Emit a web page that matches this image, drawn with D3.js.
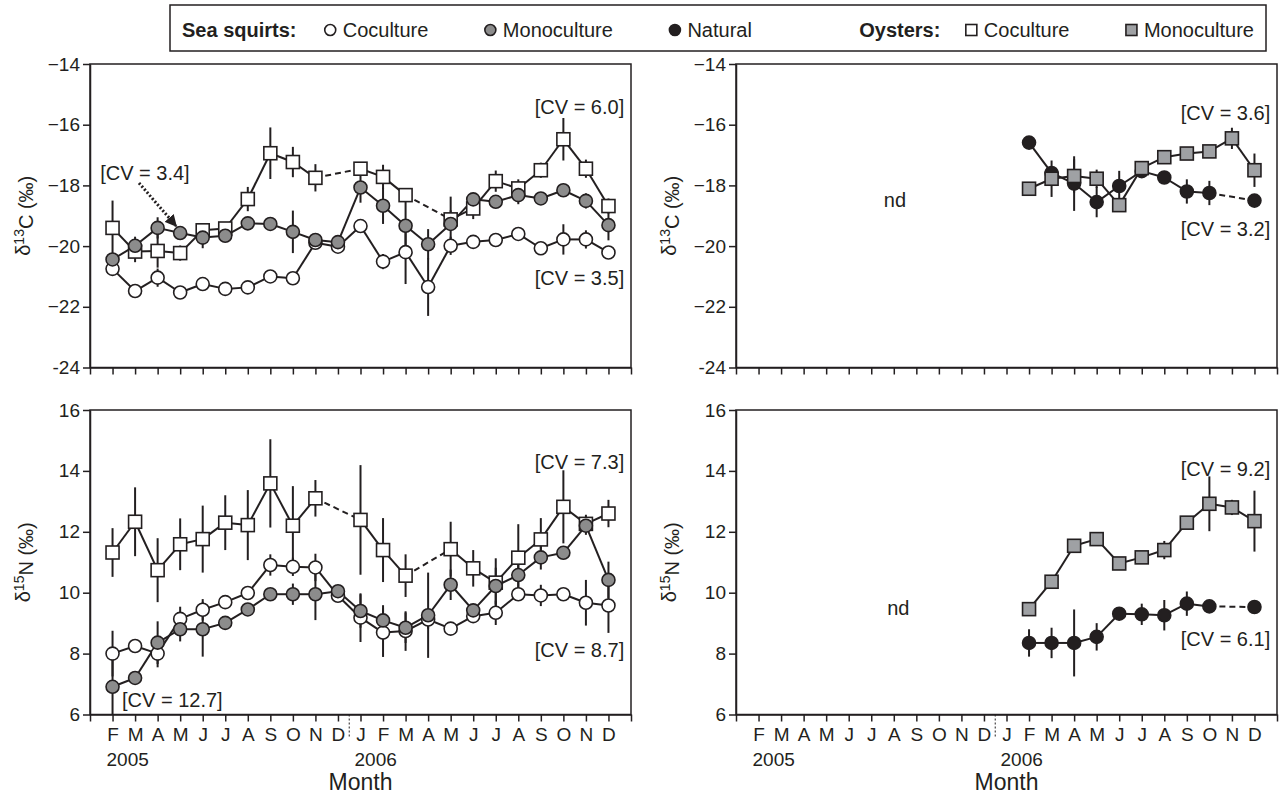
<!DOCTYPE html>
<html>
<head>
<meta charset="utf-8">
<script src="https://cdnjs.cloudflare.com/ajax/libs/d3/7.8.5/d3.min.js"></script>
<style>
body { margin: 0; background: #fff; }
svg text { font-family: "Liberation Sans", Arial, Helvetica, sans-serif; fill: #231f20; }
</style>
</head>
<body>
<svg id="chart" width="1279" height="797"></svg>
<script>
// month index 1 = Feb 2005 ... 23 = Dec 2006 (0 and 24 are the frame edges)
var monthLabels = ["F","M","A","M","J","J","A","S","O","N","D","J","F","M","A","M","J","J","A","S","O","N","D"];
var yearLabels = [{t: "2005", m: 1}, {t: "2006", m: 12}];
var c13Ticks = [-24, -22, -20, -18, -16, -14];
var n15Ticks = [6, 8, 10, 12, 14, 16];

// d13C, sea squirts + oysters in coculture / monoculture
var oyCocC13   = [-19.40,-20.18,-20.16,-20.23,-19.48,-19.42,-18.45,-16.94,-17.23,-17.75,null,-17.45,-17.72,-18.32,null,-19.12,-18.76,-17.86,-18.10,-17.50,-16.48,-17.45,-18.68];
var oyCocC13e  = [0.9,0.35,0.55,0.25,0.2,0.15,0.4,0.85,0.5,0.45,null,0.15,0.4,0.2,null,0.3,0.35,0.35,0.3,0.25,0.7,0.3,0.25];
var ssCocC13   = [-20.75,-21.48,-21.04,-21.53,-21.25,-21.41,-21.36,-21.00,-21.06,-19.89,-20.02,-19.34,-20.51,-20.20,-21.35,-19.99,-19.86,-19.80,-19.60,-20.07,-19.78,-19.78,-20.21];
var ssCocC13e  = [0.1,0.1,0.3,0.1,0.2,0.1,0.1,0.1,0.1,0.2,0.1,0.1,0.25,1.05,0.95,0.3,0.1,0.1,0.1,0.1,0.5,0.3,0.1];
var ssMonoC13  = [-20.44,-19.99,-19.40,-19.57,-19.72,-19.66,-19.25,-19.27,-19.53,-19.80,-19.87,-18.07,-18.67,-19.33,-19.94,-19.27,-18.46,-18.54,-18.32,-18.43,-18.16,-18.51,-19.31];
var ssMonoC13e = [0.15,0.3,0.35,0.1,0.35,0.1,0.2,0.1,0.7,0.15,0.1,0.5,0.6,0.9,0.5,0.9,0.1,0.1,0.3,0.1,0.2,0.25,0.5];
var ssNatC13   = [null,null,null,null,null,null,null,null,null,null,null,null,-16.59,-17.59,-17.94,-18.55,-18.02,-17.53,-17.74,-18.20,-18.25,null,-18.50];
var ssNatC13e  = [null,null,null,null,null,null,null,null,null,null,null,null,0,0.2,0.9,0.5,0.5,0.1,0.2,0.4,0.4,null,0.1];
var oyMonoC13  = [null,null,null,null,null,null,null,null,null,null,null,null,-18.11,-17.78,-17.69,-17.78,-18.65,-17.43,-17.07,-16.95,-16.88,-16.45,-17.50];
var oyMonoC13e = [null,null,null,null,null,null,null,null,null,null,null,null,0.1,0.6,0.55,0.3,0.15,0.1,0.15,0.1,0.1,0.35,0.55];

// d15N
var oyCocN15   = [11.32,12.33,10.74,11.59,11.76,12.30,12.22,13.59,12.20,13.10,null,12.39,11.40,10.56,null,11.43,10.80,10.33,11.15,11.75,12.82,12.26,12.60];
var oyCocN15e  = [0.8,1.13,1.05,0.85,1.1,0.9,1.15,1.45,1.3,0.6,null,1.8,1.05,0.7,null,0.9,0.6,0.8,1.1,0.7,1.2,0.3,0.45];
var ssCocN15   = [8.00,8.25,8.00,9.14,9.44,9.69,9.99,10.91,10.85,10.83,9.90,9.18,8.69,8.74,9.12,8.82,9.23,9.34,9.95,9.91,9.95,9.67,9.58];
var ssCocN15e  = [0.75,0.1,0.45,0.4,0.35,0.2,0.1,0.35,0.3,0.45,0.2,0.8,0.8,0.65,0.3,0.1,0.1,0.4,0.1,0.35,0.1,0.75,0.9];
var ssMonoN15  = [6.91,7.20,8.36,8.80,8.80,9.01,9.45,9.95,9.95,9.95,10.05,9.40,9.09,8.85,9.26,10.26,9.42,10.22,10.58,11.16,11.31,12.20,10.42];
var ssMonoN15e = [0.9,0.1,0.7,0.4,0.9,0.1,0.1,0.1,0.35,0.85,0.1,0.55,0.5,0.5,1.4,0.5,0.1,0.6,0.5,0.4,0.1,0.3,0.6];
var ssNatN15   = [null,null,null,null,null,null,null,null,null,null,null,null,8.35,8.35,8.35,8.55,9.31,9.29,9.26,9.64,9.55,null,9.53];
var ssNatN15e  = [null,null,null,null,null,null,null,null,null,null,null,null,0.45,0.5,1.1,0.45,0.1,0.35,0.5,0.4,0.1,null,0.1];
var oyMonoN15  = [null,null,null,null,null,null,null,null,null,null,null,null,9.46,10.36,11.54,11.76,10.96,11.16,11.40,12.30,12.92,12.80,12.35];
var oyMonoN15e = [null,null,null,null,null,null,null,null,null,null,null,null,0.1,0.1,0.2,0.1,0.15,0.1,0.3,0.1,0.9,0.25,1.0];

var ink = "#231f20";
var styles = {
  ssCoc:  {shape: "circle", fill: "#ffffff", label: "Coculture"},
  ssMono: {shape: "circle", fill: "#8c8c8c", label: "Monoculture"},
  ssNat:  {shape: "circle", fill: ink,       label: "Natural"},
  oyCoc:  {shape: "square", fill: "#ffffff", label: "Coculture"},
  oyMono: {shape: "square", fill: "#9fa1a4", label: "Monoculture"}
};

var cols = [{x0: 90, x1: 631}, {x0: 736, x1: 1277}];
var rows = [
  {y0: 64,  y1: 367.5, domain: [-24, -14], ticks: c13Ticks, iso: "13", el: "C"},
  {y0: 410, y1: 714.5, domain: [6, 16],    ticks: n15Ticks, iso: "15", el: "N"}
];

var panels = [
  {col: 0, row: 0, series: [
      {k: "oyCoc", v: oyCocC13, e: oyCocC13e}, {k: "ssCoc", v: ssCocC13, e: ssCocC13e}, {k: "ssMono", v: ssMonoC13, e: ssMonoC13e}],
   notes: [{t: "[CV = 6.0]", m: 23.7, v: -15.65, a: "end"}, {t: "[CV = 3.5]", m: 23.7, v: -21.27, a: "end"},
           {t: "[CV = 3.4]", m: 0.45, v: -17.82, a: "start"}]},
  {col: 1, row: 0, series: [
      {k: "ssNat", v: ssNatC13, e: ssNatC13e}, {k: "oyMono", v: oyMonoC13, e: oyMonoC13e}],
   notes: [{t: "[CV = 3.6]", m: 23.7, v: -15.84, a: "end"}, {t: "[CV = 3.2]", m: 23.7, v: -19.66, a: "end"},
           {t: "nd", m: 7.05, v: -18.7, a: "middle"}]},
  {col: 0, row: 1, series: [
      {k: "oyCoc", v: oyCocN15, e: oyCocN15e}, {k: "ssCoc", v: ssCocN15, e: ssCocN15e}, {k: "ssMono", v: ssMonoN15, e: ssMonoN15e}],
   notes: [{t: "[CV = 7.3]", m: 23.7, v: 14.06, a: "end"}, {t: "[CV = 8.7]", m: 23.7, v: 7.89, a: "end"},
           {t: "[CV = 12.7]", m: 1.42, v: 6.25, a: "start"}]},
  {col: 1, row: 1, series: [
      {k: "ssNat", v: ssNatN15, e: ssNatN15e}, {k: "oyMono", v: oyMonoN15, e: oyMonoN15e}],
   notes: [{t: "[CV = 9.2]", m: 23.7, v: 13.83, a: "end"}, {t: "[CV = 6.1]", m: 23.7, v: 8.25, a: "end"},
           {t: "nd", m: 7.2, v: 9.27, a: "middle"}]}
];

var svg = d3.select("#chart");
svg.append("defs").append("marker")
  .attr("id", "arrow")
  .attr("viewBox", "0 0 10 10")
  .attr("refX", 9).attr("refY", 5)
  .attr("markerWidth", 4).attr("markerHeight", 4)
  .attr("markerUnits", "strokeWidth")
  .attr("orient", "auto")
  .append("path").attr("d", "M0,0L10,5L0,10z").attr("fill", ink);

function minusFmt(d) {
  if (d === -24) return "-24";
  return d < 0 ? "\u2212" + Math.abs(d) : String(d);
}

function drawMarker(g, k, cx, cy, r) {
  var st = styles[k];
  if (st.shape === "circle") {
    g.append("circle").attr("cx", cx).attr("cy", cy).attr("r", r)
      .attr("fill", st.fill).attr("stroke", ink).attr("stroke-width", 1.6);
  } else {
    g.append("rect").attr("x", cx - r).attr("y", cy - r).attr("width", 2 * r).attr("height", 2 * r)
      .attr("fill", st.fill).attr("stroke", ink).attr("stroke-width", 1.6);
  }
}

panels.forEach(function(p) {
  var c = cols[p.col], r = rows[p.row];
  var x = d3.scaleLinear().domain([0, 24]).range([c.x0, c.x1]);
  var y = d3.scaleLinear().domain(r.domain).range([r.y1, r.y0]);
  var g = svg.append("g");

  // frame
  g.append("rect").attr("x", c.x0).attr("y", r.y0)
    .attr("width", c.x1 - c.x0).attr("height", r.y1 - r.y0)
    .attr("fill", "none").attr("stroke", ink).attr("stroke-width", 1.5);

  var yAxis = d3.axisLeft(y).tickValues(r.ticks).tickSize(7).tickSizeOuter(0).tickPadding(3).tickFormat(minusFmt);
  var gy = g.append("g").attr("transform", "translate(" + c.x0 + ",0)").call(yAxis);
  gy.selectAll("text").style("font-size", "19px");

  var xAxis = d3.axisBottom(x).tickValues(d3.range(0, 25)).tickSize(7).tickSizeOuter(0).tickPadding(6)
    .tickFormat(function(i) { return (p.row === 1 && i >= 1 && i <= 23) ? monthLabels[i - 1] : ""; });
  var gx = g.append("g").attr("transform", "translate(0," + r.y1 + ")").call(xAxis);
  gx.selectAll("text").style("font-size", "19px");
  g.selectAll(".domain, .tick line").attr("stroke", ink).attr("stroke-width", 1.5);

  // y title
  var yt = g.append("text")
    .attr("transform", "translate(" + (c.x0 - 67) + "," + ((r.y0 + r.y1) / 2) + ") rotate(-90)")
    .attr("text-anchor", "middle").attr("dy", "0.35em").style("font-size", "20px");
  yt.append("tspan").text("\u03b4");
  yt.append("tspan").text(r.iso).attr("dy", "-0.45em").style("font-size", "14px");
  yt.append("tspan").text(r.el + " (\u2030)").attr("dy", "0.45em");

  if (p.row === 1) {
    g.append("line").attr("x1", x(11.5)).attr("x2", x(11.5)).attr("y1", r.y1).attr("y2", r.y1 + 22)
      .attr("stroke", ink).attr("stroke-width", 1).attr("stroke-dasharray", "2,2");
    yearLabels.forEach(function(yl) {
      g.append("text").attr("x", x(yl.m) - 6).attr("y", r.y1 + 51).style("font-size", "19px").text(yl.t);
    });
    g.append("text").attr("x", (c.x0 + c.x1) / 2).attr("y", r.y1 + 75)
      .attr("text-anchor", "middle").style("font-size", "23px").text("Month");
  }

  // lines: solid between neighbours, dashed across missing months
  p.series.forEach(function(s) {
    var last = -1;
    s.v.forEach(function(v, i) {
      if (v === null) return;
      if (last >= 0) {
        g.append("line")
          .attr("x1", x(last + 1)).attr("y1", y(s.v[last]))
          .attr("x2", x(i + 1)).attr("y2", y(v))
          .attr("stroke", ink).attr("stroke-width", 2)
          .attr("stroke-dasharray", (i - last > 1) ? "6,4" : null);
      }
      last = i;
    });
  });
  // error bars
  p.series.forEach(function(s) {
    s.v.forEach(function(v, i) {
      if (v === null || !s.e[i]) return;
      g.append("line").attr("x1", x(i + 1)).attr("x2", x(i + 1))
        .attr("y1", y(v - s.e[i])).attr("y2", y(v + s.e[i]))
        .attr("stroke", ink).attr("stroke-width", 2);
    });
  });
  // markers
  p.series.forEach(function(s) {
    s.v.forEach(function(v, i) {
      if (v === null) return;
      drawMarker(g, s.k, x(i + 1), y(v), 6.5);
    });
  });

  p.notes.forEach(function(n) {
    g.append("text").attr("x", x(n.m)).attr("y", y(n.v))
      .attr("text-anchor", n.a).style("font-size", "20px").text(n.t);
  });

  if (p.col === 0 && p.row === 0) {
    // dotted arrow from the CV label to the May 2005 monoculture point
    g.append("line").attr("x1", 139).attr("y1", 183)
      .attr("x2", x(4) - 4).attr("y2", y(ssMonoC13[3]) - 7)
      .attr("stroke", ink).attr("stroke-width", 3).attr("stroke-dasharray", "2,2")
      .attr("marker-end", "url(#arrow)");
  }
});

// legend: box spans 170..1266, items spread evenly to fill it
var lg = svg.append("g");
var boxX0 = 170, boxX1 = 1266, pad = 12, mkW = 11, mkGap = 7;
lg.append("rect").attr("x", boxX0).attr("y", 5).attr("width", boxX1 - boxX0).attr("height", 46)
  .attr("fill", "#fff").attr("stroke", ink).attr("stroke-width", 1.5);
var legendItems = [
  {head: "Sea squirts:"}, {k: "ssCoc"}, {k: "ssMono"}, {k: "ssNat"},
  {head: "Oysters:"}, {k: "oyCoc"}, {k: "oyMono"}
];
var gapW = [0.5, 1, 1, 1.9, 0.45, 1];  // relative gaps between consecutive items
legendItems.forEach(function(it) {
  it.text = lg.append("text").attr("y", 37).style("font-size", "20px")
    .style("font-weight", it.head ? "bold" : null)
    .text(it.head || styles[it.k].label);
  it.w = it.text.node().getComputedTextLength() + (it.head ? 0 : mkW + mkGap);
});
var used = d3.sum(legendItems, function(it) { return it.w; });
var unit = (boxX1 - boxX0 - 2 * pad - used) / d3.sum(gapW);
var cursor = boxX0 + pad;
legendItems.forEach(function(it, i) {
  if (it.head) {
    it.text.attr("x", cursor);
  } else {
    drawMarker(lg, it.k, cursor + mkW / 2, 30, 5.5);
    it.text.attr("x", cursor + mkW + mkGap);
  }
  cursor += it.w + (i < gapW.length ? gapW[i] * unit : 0);
});
</script>
</body>
</html>
